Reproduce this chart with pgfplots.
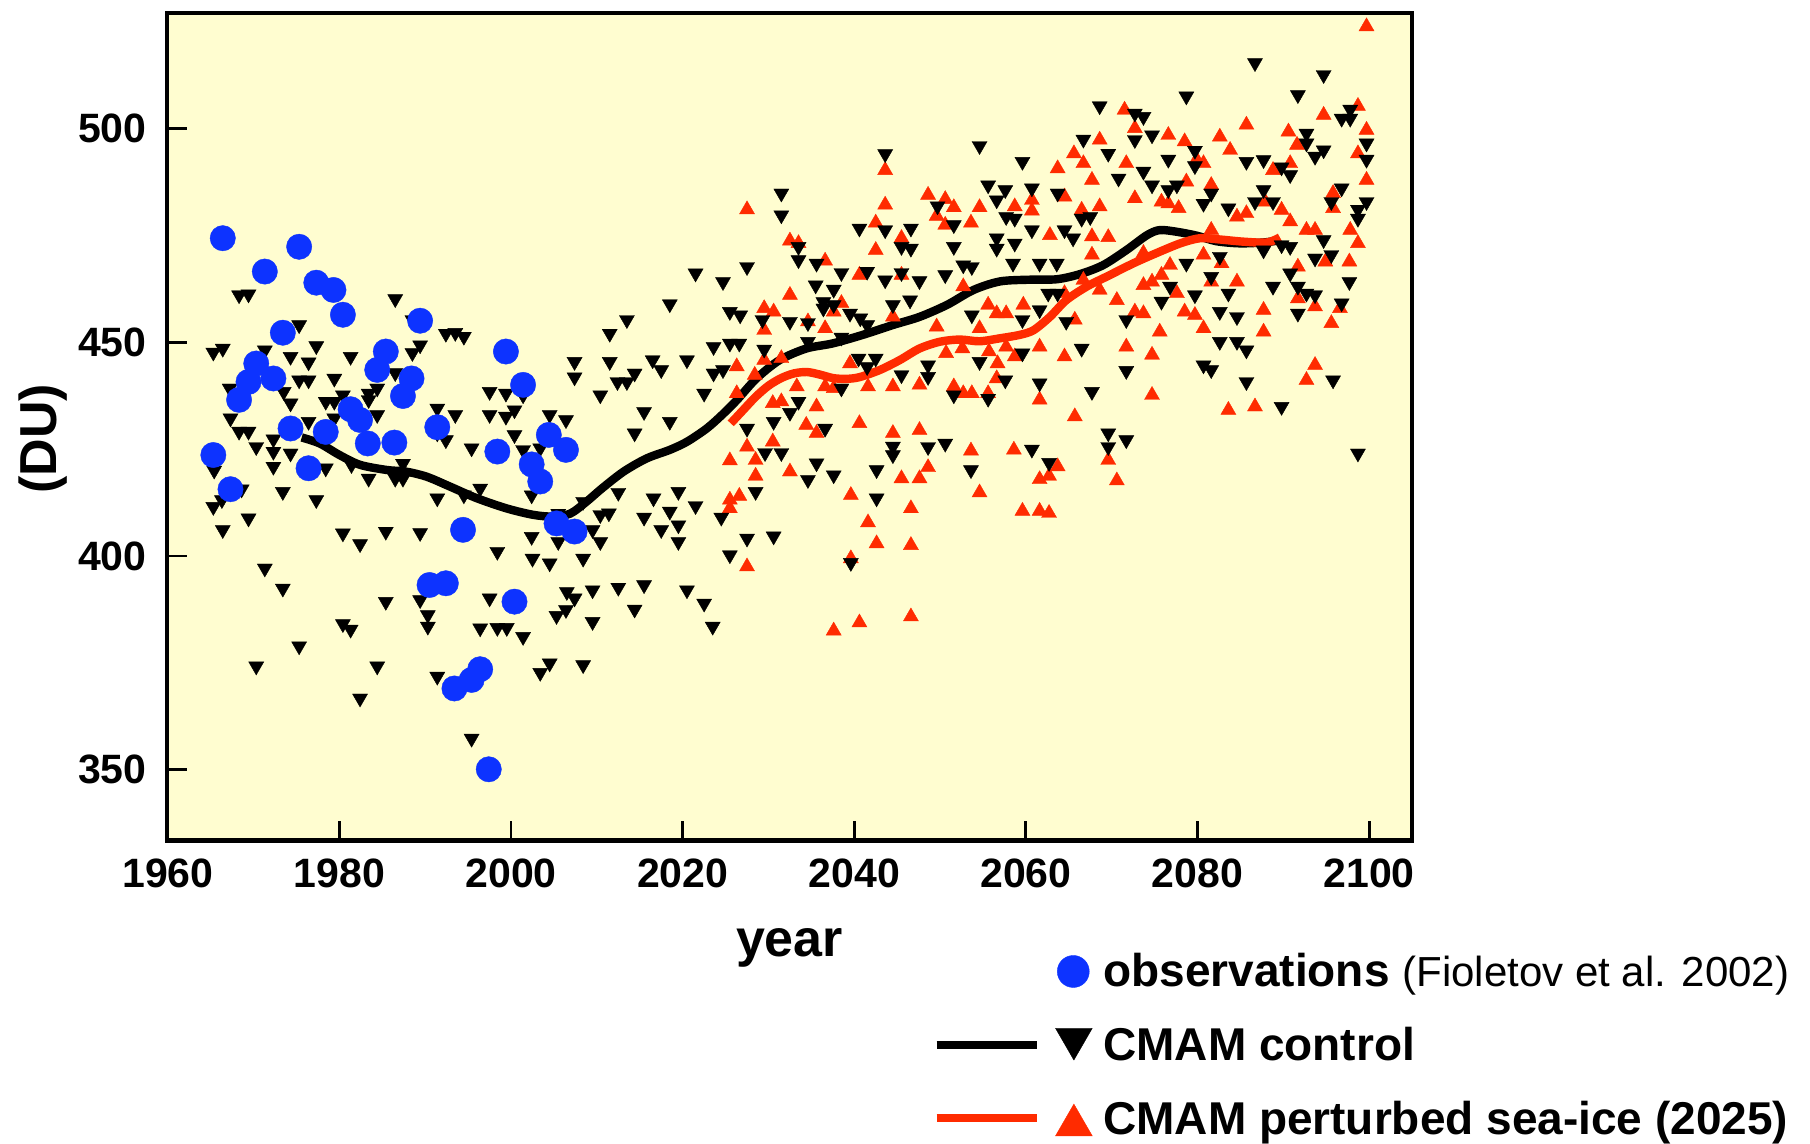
\documentclass[border=0pt]{standalone}
\usepackage{fontspec}
\setmainfont{Liberation Sans}
\usepackage{pgfplots}
\pgfplotsset{compat=1.18}

\definecolor{bgyellow}{RGB}{255,253,208}
\definecolor{obsblue}{RGB}{13,51,255}
\definecolor{seaicered}{RGB}{255,43,0}

% total ozone observations
\pgfplotstableread{
x y
1965.3 423.6
1966.4 474.3
1967.3 415.6
1968.3 436.5
1969.4 440.7
1970.3 445.0
1971.3 466.5
1972.3 441.5
1973.4 452.2
1974.3 429.8
1975.3 472.3
1976.4 420.5
1977.3 463.9
1978.4 429.0
1979.3 462.2
1980.4 456.4
1981.3 434.3
1982.4 431.8
1983.3 426.3
1984.4 443.5
1985.4 447.8
1986.4 426.5
1987.4 437.4
1988.4 441.5
1989.4 455.0
1990.5 393.2
1991.4 430.1
1992.4 393.6
1993.4 369.0
1994.4 406.1
1995.4 371.0
1996.4 373.5
1997.4 350.1
1998.4 424.4
1999.4 447.8
2000.4 389.3
2001.4 440.0
2002.4 421.4
2003.4 417.4
2004.4 428.3
2005.3 407.6
2006.4 424.8
2007.4 405.7
}\obs

% CMAM control run, individual years
\pgfplotstableread{
x y
1968.3 461.0
1969.4 461.2
1986.5 460.1
1975.3 454.0
1988.5 455.2
1992.4 452.0
1993.5 452.2
1994.5 451.3
1965.3 447.6
1966.4 448.5
1971.3 448.1
1977.3 449.1
1989.4 449.3
1988.5 447.5
1974.3 446.6
1976.4 445.3
1981.3 446.6
2007.4 445.4
2007.4 441.8
1975.3 441.1
1976.4 441.1
1979.4 441.5
1986.5 442.8
1967.2 439.2
1973.5 438.4
1980.4 437.6
1983.4 438.0
1984.4 439.2
1997.5 438.4
1999.4 438.0
2001.4 437.6
1974.3 435.7
1978.4 436.1
1979.4 436.1
1983.4 436.5
1967.3 432.2
1991.4 434.5
1993.5 433.0
1997.5 433.0
1999.4 432.6
2000.4 434.1
2004.5 433.0
2006.4 431.8
1984.4 433.0
1976.4 431.4
1979.4 432.2
1968.3 429.1
1969.4 429.1
1972.3 427.3
1970.3 425.5
1972.3 424.4
1974.3 424.0
1972.3 420.9
1978.4 420.5
1981.4 421.3
1983.4 418.1
1986.5 418.1
1987.4 418.1
1987.4 421.6
1991.4 428.7
1992.4 427.1
1995.4 425.2
2000.4 428.3
2001.4 424.8
2003.4 425.2
1965.4 420.0
1973.4 415.0
1977.3 413.1
1968.6 415.6
1965.3 411.5
1966.3 413.1
1969.4 408.8
1966.4 406.1
1991.4 413.5
1994.5 414.2
1996.4 415.8
2002.4 414.2
2002.4 404.5
1998.4 401.0
2002.5 399.4
2004.5 398.3
2005.5 403.3
2005.5 409.9
2008.4 412.7
2010.4 409.6
2009.5 406.1
2010.4 403.3
2008.4 399.4
1980.4 405.3
1982.4 402.8
1985.4 405.7
1989.4 405.4
1971.3 397.1
1973.4 392.4
1985.4 389.3
1989.4 389.7
1990.3 386.2
1990.3 383.5
1980.4 384.1
1981.3 382.8
1997.5 390.1
1996.4 383.1
1998.4 383.2
1999.5 383.2
2001.4 381.1
2006.5 391.6
2007.4 390.1
2009.5 392.0
2006.4 387.4
2005.3 386.0
2009.5 384.6
1975.3 378.9
1970.3 374.2
1984.4 374.2
1991.4 371.8
2004.5 374.9
2003.4 372.7
2008.4 374.5
1982.4 366.7
1995.4 357.3
2043.6 494.0
2054.6 495.9
2031.5 484.8
2031.5 479.7
2040.6 476.6
2043.6 476.2
2046.6 476.6
2055.6 486.7
2056.6 483.2
2049.7 481.8
2051.6 477.4
2033.5 472.3
2033.5 469.2
2035.6 468.4
2045.5 472.3
2046.6 471.9
2051.6 472.3
2056.6 474.3
2056.6 471.9
2052.7 468.0
2053.7 467.6
2027.5 467.6
2021.5 466.1
2024.7 464.1
2038.5 466.2
2041.5 466.5
2043.6 464.5
2045.5 466.2
2047.6 464.3
2050.6 465.7
2035.5 463.3
2037.6 462.3
2018.5 458.9
2046.5 459.8
2044.5 458.7
2053.7 456.3
2025.5 457.1
2026.7 456.3
2036.4 459.4
2037.6 458.7
2036.4 457.9
2013.5 455.2
2011.5 452.0
2029.3 455.2
2032.5 454.8
2034.6 454.5
2039.5 456.7
2040.7 455.6
2041.5 454.0
2023.6 448.9
2025.5 449.7
2026.6 449.7
2029.5 448.3
2034.6 450.1
2038.5 451.1
2011.5 445.4
2016.5 445.8
2017.5 443.5
2020.5 445.8
2012.4 440.7
2013.5 440.7
2014.4 442.7
2023.6 442.7
2024.7 443.5
2010.4 437.6
2022.5 438.0
2040.5 446.2
2041.5 444.2
2042.5 446.2
2048.6 444.6
2048.6 441.9
2054.6 445.4
2051.6 437.6
2055.6 436.8
2033.5 436.1
2045.5 442.3
2038.5 439.2
2015.5 433.7
2018.5 431.4
2014.4 428.7
2012.5 414.8
2016.6 413.5
2019.5 415.0
2018.5 410.4
2021.5 411.7
2015.5 409.0
2019.5 407.2
2017.5 406.1
2019.5 403.3
2011.4 410.0
2024.5 409.0
2027.5 404.1
2030.6 404.6
2025.5 400.2
2027.5 429.8
2030.6 431.4
2032.5 433.5
2036.6 429.8
2029.6 424.1
2031.5 424.1
2028.5 415.0
2035.6 421.7
2037.6 418.9
2034.6 417.8
2042.6 420.1
2042.6 413.5
2044.5 425.6
2044.5 423.6
2048.6 425.5
2050.6 426.3
2053.6 420.1
2039.6 398.4
2012.5 392.6
2015.5 393.2
2020.5 392.0
2022.5 388.9
2014.4 387.5
2023.5 383.5
2086.7 515.3
2094.7 512.5
2091.7 507.8
2078.7 507.5
2068.6 505.2
2072.7 503.5
2073.7 502.7
2097.8 504.4
2096.8 502.3
2097.8 502.3
2074.7 498.4
2072.7 497.3
2066.7 497.4
2069.6 494.1
2092.7 498.8
2092.7 496.5
2094.7 494.9
2093.7 493.4
2099.7 496.5
2099.7 492.7
2079.7 494.8
2079.7 491.2
2076.6 492.7
2085.7 492.2
2087.7 492.6
2089.8 490.9
2090.8 489.1
2059.6 492.2
2070.8 488.3
2073.7 489.9
2074.7 486.7
2076.6 485.6
2077.6 486.7
2080.7 482.4
2081.6 484.8
2083.6 481.3
2086.7 482.8
2087.7 485.6
2088.8 482.8
2096.8 486.0
2095.6 482.8
2099.7 482.8
2098.7 481.0
2098.7 478.9
2057.6 485.6
2060.7 486.0
2063.7 484.8
2066.5 478.9
2067.5 479.3
2057.7 479.3
2058.7 478.9
2060.7 476.2
2064.5 476.2
2065.5 474.3
2058.7 473.1
2058.5 468.4
2061.6 468.4
2063.6 468.4
2061.6 457.5
2059.6 455.2
2062.6 461.4
2063.7 461.4
2064.7 454.8
2059.6 447.4
2057.6 441.1
2061.6 440.4
2066.5 448.5
2067.7 438.4
2071.7 455.2
2071.7 443.3
2075.8 459.5
2076.8 463.0
2079.7 461.0
2081.6 465.3
2082.6 470.0
2083.6 461.4
2082.6 457.1
2084.6 455.9
2082.6 450.1
2084.6 450.1
2085.7 448.1
2080.7 444.6
2081.6 443.5
2085.7 440.7
2089.8 434.9
2078.7 468.4
2088.8 463.0
2090.8 466.1
2091.7 463.0
2092.7 461.4
2093.7 461.0
2091.7 456.7
2094.7 473.9
2093.7 469.6
2095.6 470.4
2096.8 459.1
2097.7 464.1
2095.8 441.1
2090.8 472.3
2089.8 472.7
2087.7 471.5
2069.6 428.7
2069.6 425.5
2071.7 427.1
2060.7 424.9
2062.7 421.8
2098.7 424.0
}\control

% CMAM run with perturbed sea-ice from 2025
\pgfplotstableread{
x y
2043.6 490.2
2027.5 481.0
2043.6 482.1
2048.6 484.4
2050.6 483.4
2051.6 481.5
2054.6 481.5
2042.5 477.9
2049.6 479.5
2050.6 477.4
2053.6 477.9
2032.5 473.7
2033.5 473.1
2045.5 474.3
2042.5 471.5
2036.6 469.0
2040.6 465.7
2045.5 465.7
2052.7 463.0
2032.5 461.0
2029.5 457.9
2030.6 457.1
2038.5 459.1
2037.6 457.1
2044.5 455.9
2055.6 458.7
2056.6 456.7
2029.5 452.8
2036.6 453.2
2034.6 454.8
2049.6 453.6
2026.3 444.3
2029.5 445.8
2031.5 446.2
2028.4 442.3
2033.3 439.6
2036.6 439.6
2037.6 439.2
2039.5 445.0
2041.6 439.6
2044.5 439.6
2047.6 440.0
2050.7 447.4
2052.6 448.5
2055.7 447.8
2056.7 445.0
2054.6 453.2
2056.6 441.5
2051.6 439.6
2052.7 438.0
2053.7 438.0
2055.6 438.0
2030.5 435.7
2031.5 436.1
2035.6 434.9
2026.3 438.0
2040.6 431.0
2034.4 430.6
2035.6 428.7
2044.5 428.7
2047.6 429.4
2053.6 424.6
2058.6 424.8
2027.5 425.5
2030.5 426.7
2025.5 422.3
2028.5 422.4
2028.5 418.7
2032.5 419.7
2048.6 420.7
2045.5 418.1
2047.6 418.1
2025.5 413.1
2026.6 414.0
2025.5 411.1
2039.6 414.2
2046.6 411.1
2054.6 414.8
2041.6 407.8
2042.6 402.9
2046.6 402.5
2039.6 399.4
2027.5 397.5
2040.6 384.4
2037.6 382.5
2046.6 385.8
2099.7 523.8
2098.7 505.2
2094.7 503.1
2085.7 500.8
2071.5 504.3
2072.7 500.0
2099.7 499.6
2082.6 498.0
2083.8 494.9
2076.6 498.4
2068.6 497.3
2078.5 496.9
2090.6 499.2
2091.6 496.1
2065.6 494.1
2063.7 490.6
2066.7 491.8
2071.7 491.8
2079.9 492.7
2080.7 491.8
2067.7 487.9
2098.7 494.1
2099.7 487.9
2090.8 491.8
2088.8 490.2
2072.7 483.6
2068.6 481.7
2064.5 484.0
2060.7 483.2
2060.7 480.7
2058.7 481.7
2066.5 480.9
2075.8 482.8
2076.6 482.4
2077.8 481.3
2078.7 487.5
2081.6 486.7
2084.6 479.3
2085.7 480.1
2087.9 482.8
2089.8 480.9
2090.8 478.2
2095.8 484.8
2095.8 481.3
2097.8 476.2
2098.7 473.1
2092.7 476.2
2093.7 476.2
2062.8 475.0
2067.7 474.7
2069.6 474.5
2067.7 470.4
2073.7 470.8
2080.7 470.4
2081.6 476.2
2082.8 468.4
2076.8 468.0
2094.9 468.8
2097.7 468.8
2084.6 464.1
2081.6 464.1
2073.7 463.3
2074.7 464.1
2075.8 465.7
2077.6 461.4
2070.6 459.8
2068.6 462.2
2066.7 464.5
2064.5 461.4
2091.7 467.6
2091.7 460.2
2093.7 458.3
2096.6 457.9
2059.7 458.7
2057.7 456.7
2087.7 457.5
2072.7 457.1
2073.7 456.7
2078.5 457.1
2079.7 456.3
2080.7 453.2
2087.7 452.4
2095.6 454.4
2075.6 452.4
2065.7 455.2
2061.6 448.9
2057.7 448.9
2058.7 446.6
2064.5 446.6
2071.7 448.9
2074.7 447.0
2093.7 444.6
2092.7 441.1
2061.6 436.5
2074.7 437.6
2083.6 434.1
2086.7 434.9
2065.7 432.6
2063.7 420.9
2062.7 418.7
2061.6 417.9
2069.6 422.4
2070.6 417.6
2059.6 410.5
2061.6 410.5
2062.7 410.0
}\perturbed

% smoothed control run
\pgfplotstableread{
x y
1975.6 427.7
1977.7 426.3
1980.0 423.6
1982.4 421.3
1985.5 420.1
1987.8 419.7
1990.2 418.5
1992.9 416.2
1996.0 413.5
1999.5 411.1
2002.6 409.6
2004.9 409.2
2006.9 409.9
2008.8 412.7
2010.6 415.8
2013.1 419.7
2015.8 422.8
2018.5 424.8
2020.5 426.7
2022.8 429.8
2024.6 433.0
2026.3 436.4
2028.6 441.5
2031.3 445.8
2034.4 448.5
2037.5 449.7
2041.0 451.7
2044.5 454.0
2047.6 455.9
2050.8 458.7
2053.9 462.2
2057.0 464.2
2060.5 464.6
2063.6 464.7
2066.3 465.9
2069.0 468.0
2071.7 471.5
2074.1 475.0
2075.6 476.2
2077.6 475.8
2079.9 474.9
2082.2 473.6
2084.9 473.1
2087.7 473.3
2089.5 473.8
}\controlfit

% smoothed perturbed run
\pgfplotstableread{
x y
2025.6 431.0
2027.0 434.0
2028.5 437.2
2030.0 439.8
2031.5 441.6
2033.0 442.7
2034.5 443.0
2036.0 442.4
2037.5 441.6
2039.0 441.4
2040.6 441.8
2043.0 443.5
2045.3 445.8
2047.6 448.5
2050.0 450.1
2052.3 450.6
2054.6 450.2
2057.0 450.9
2059.3 451.7
2060.9 452.8
2062.8 455.9
2064.7 459.8
2067.1 463.0
2069.4 465.3
2072.5 468.4
2075.2 470.8
2078.0 473.1
2080.3 474.3
2082.6 474.0
2085.3 473.5
2088.1 473.3
2089.6 474.5
}\perturbedfit

\begin{document}
\begin{tikzpicture}
\begin{axis}[
  at={(0pt,0pt)}, anchor=south west,
  scale only axis, width=311.25pt, height=206.85pt,
  xmin=1959.9, xmax=2105, ymin=333.4, ymax=526.9,
  axis background/.style={fill=bgyellow},
  axis line style={line width=1.1pt},
  xtick={1960,1980,...,2100}, ytick={350,400,450,500},
  tick pos=left, tick align=inside,
  major tick length=5pt,
  every tick/.style={black, line width=0.7pt},
  /pgf/number format/assume math mode=true,
  /pgf/number format/1000 sep={},
  ticklabel style={font=\fontsize{10.25}{12}\selectfont\bfseries},
  xticklabel style={yshift=-0.9pt},
  yticklabel style={xshift=-1.6pt},
  xlabel={year}, ylabel={(DU)},
  xlabel style={at={(axis description cs:0.5,-0.14)}, anchor=base,
    font=\fontsize{13}{15}\selectfont\bfseries},
  ylabel style={at={(axis description cs:-0.0994,0.4855)}, anchor=center,
    font=\fontsize{13}{15}\selectfont\bfseries},
  legend style={at={(axis description cs:0.615,-0.1275)}, anchor=north west,
    draw=none, fill=none, inner sep=0pt, outer sep=0pt,
    row sep=0.6pt, column sep=2.65pt,
    nodes={inner sep=0pt, outer sep=0pt, text depth=0pt},
    cells={anchor=base west},
    font=\fontsize{11.5}{13}\selectfont\bfseries},
]
\addplot[only marks, mark=triangle*, mark size=2.17pt, forget plot,
  mark options={fill=seaicered, draw=seaicered, line width=0.1pt}] table {\perturbed};
\addplot[only marks, mark=triangle*, mark size=2.17pt, forget plot,
  mark options={rotate=180, fill=black, draw=black, line width=0.1pt}] table {\control};
\addplot[black, line width=2.1pt, smooth, no markers, forget plot] table {\controlfit};
\addplot[seaicered, line width=2.1pt, smooth, no markers, forget plot] table {\perturbedfit};
\addplot[only marks, mark=*, mark size=3.17pt, forget plot,
  mark options={fill=obsblue, draw=obsblue, line width=0.1pt}] table {\obs};

\addlegendimage{legend image code/.code={
  \path[draw=none, fill=none] (0pt,-8pt) rectangle (39pt,10pt);
  \draw[obsblue, fill=obsblue, line width=0.1pt] plot[only marks, mark=*, mark size=4pt]
    coordinates {(34.15pt,3.68pt)};
}}
\addlegendentry{observations {\mdseries\fontsize{10.5}{12}\selectfont (Fioletov et al. 2002)}}
\addlegendimage{legend image code/.code={
  \path[draw=none, fill=none] (0pt,-8pt) rectangle (39pt,10pt);
  \draw[black, line width=2pt] (0pt,3.98pt) -- (25.1pt,3.98pt);
  \draw[black, fill=black, line width=0.1pt] plot[only marks, mark=triangle*, mark size=5.3pt,
    mark options={rotate=180}] coordinates {(34.3pt,5.43pt)};
}}
\addlegendentry{CMAM control}
\addlegendimage{legend image code/.code={
  \path[draw=none, fill=none] (0pt,-8pt) rectangle (39pt,10pt);
  \draw[seaicered, line width=2pt] (0pt,4.25pt) -- (25.1pt,4.25pt);
  \draw[seaicered, fill=seaicered, line width=0.1pt] plot[only marks, mark=triangle*, mark size=5.3pt]
    coordinates {(34.3pt,2.43pt)};
}}
\addlegendentry{CMAM perturbed sea-ice (2025)}
\end{axis}
\pgfresetboundingbox
\path[use as bounding box] (-41.75pt,-75.825pt) rectangle (410.75pt,210.175pt);
\end{tikzpicture}
\end{document}
